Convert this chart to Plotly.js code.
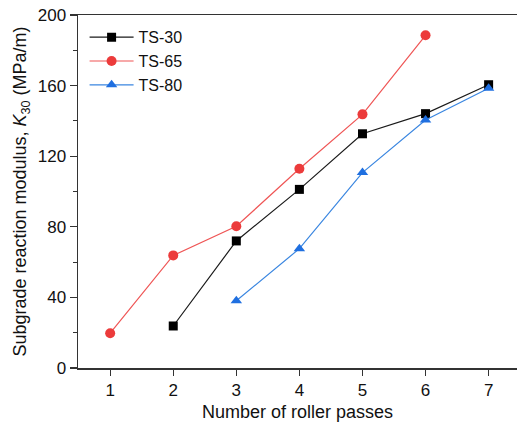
<!DOCTYPE html>
<html><head><meta charset="utf-8">
<script src="https://cdn.plot.ly/plotly-3.0.1.min.js"></script>
<style>html,body{margin:0;padding:0;background:#fff}</style>
</head><body>
<div id="chart" style="width:517px;height:424px"></div>
<script>
const passes30 = [2, 3, 4, 5, 6, 7];
const ts30 = [23.8, 72, 101.2, 132.7, 144.1, 160.5];
const passes65 = [1, 2, 3, 4, 5, 6];
const ts65 = [19.7, 63.8, 80.3, 112.9, 143.7, 188.5];
const passes80 = [3, 4, 5, 6, 7];
const ts80 = [38.1, 67.6, 110.7, 140.5, 158.5];
const xTicks = [1, 2, 3, 4, 5, 6, 7];
const yTicks = [0, 40, 80, 120, 160, 200];

const font = {family: 'Liberation Sans, Arial, sans-serif', color: '#111'};
const traces = [
  {x: passes30, y: ts30, name: 'TS-30', mode: 'lines+markers',
   line: {color: '#1a1a1a', width: 1.2}, marker: {symbol: 'square', size: 9, color: '#000'}},
  {x: passes65, y: ts65, name: 'TS-65', mode: 'lines+markers',
   line: {color: '#ef5555', width: 1.2}, marker: {symbol: 'circle', size: 10, color: '#ec3b3b'}},
  {x: passes80, y: ts80, name: 'TS-80', mode: 'lines+markers',
   line: {color: '#3a86e0', width: 1.2}, marker: {symbol: 'triangle-up', size: 10, color: '#1f6fe0'}}
];
const layout = {
  width: 517, height: 424,
  margin: {l: 78, r: 0, t: 15, b: 56},
  paper_bgcolor: '#fff', plot_bgcolor: '#fff',
  font: Object.assign({size: 16}, font),
  showlegend: true,
  legend: {x: 0.015, y: 0.985, xanchor: 'left', yanchor: 'top', bgcolor: 'rgba(0,0,0,0)',
           font: Object.assign({size: 16}, font), tracegroupgap: 0, itemwidth: 44},
  xaxis: {range: [0.49, 7.45], tickvals: xTicks, ticktext: xTicks.map(String),
          showgrid: false, zeroline: false, showline: true, mirror: true,
          linecolor: '#333', linewidth: 1.5, ticks: 'outside', ticklen: 6, tickwidth: 1.2, tickcolor: '#333',
          tickfont: Object.assign({size: 17}, font),
          title: {text: 'Number of roller passes', font: Object.assign({size: 18}, font), standoff: 6}},
  yaxis: {range: [0, 200], tickvals: yTicks, ticktext: yTicks.map(String),
          showgrid: false, zeroline: false, showline: true,
          linecolor: '#333', linewidth: 1.5, ticks: 'outside', ticklen: 7, tickwidth: 1.2, tickcolor: '#333',
          minor: {dtick: 20, tick0: 0, ticks: 'outside', ticklen: 4, tickcolor: '#333', tickwidth: 1},
          tickfont: Object.assign({size: 17}, font),
          title: {text: 'Subgrade reaction modulus, <i>K</i><sub>30</sub> (MPa/m)', font: Object.assign({size: 18}, font), standoff: 6}}
};
Plotly.newPlot('chart', traces, layout, {displayModeBar: false, staticPlot: true});
</script>
</body></html>
